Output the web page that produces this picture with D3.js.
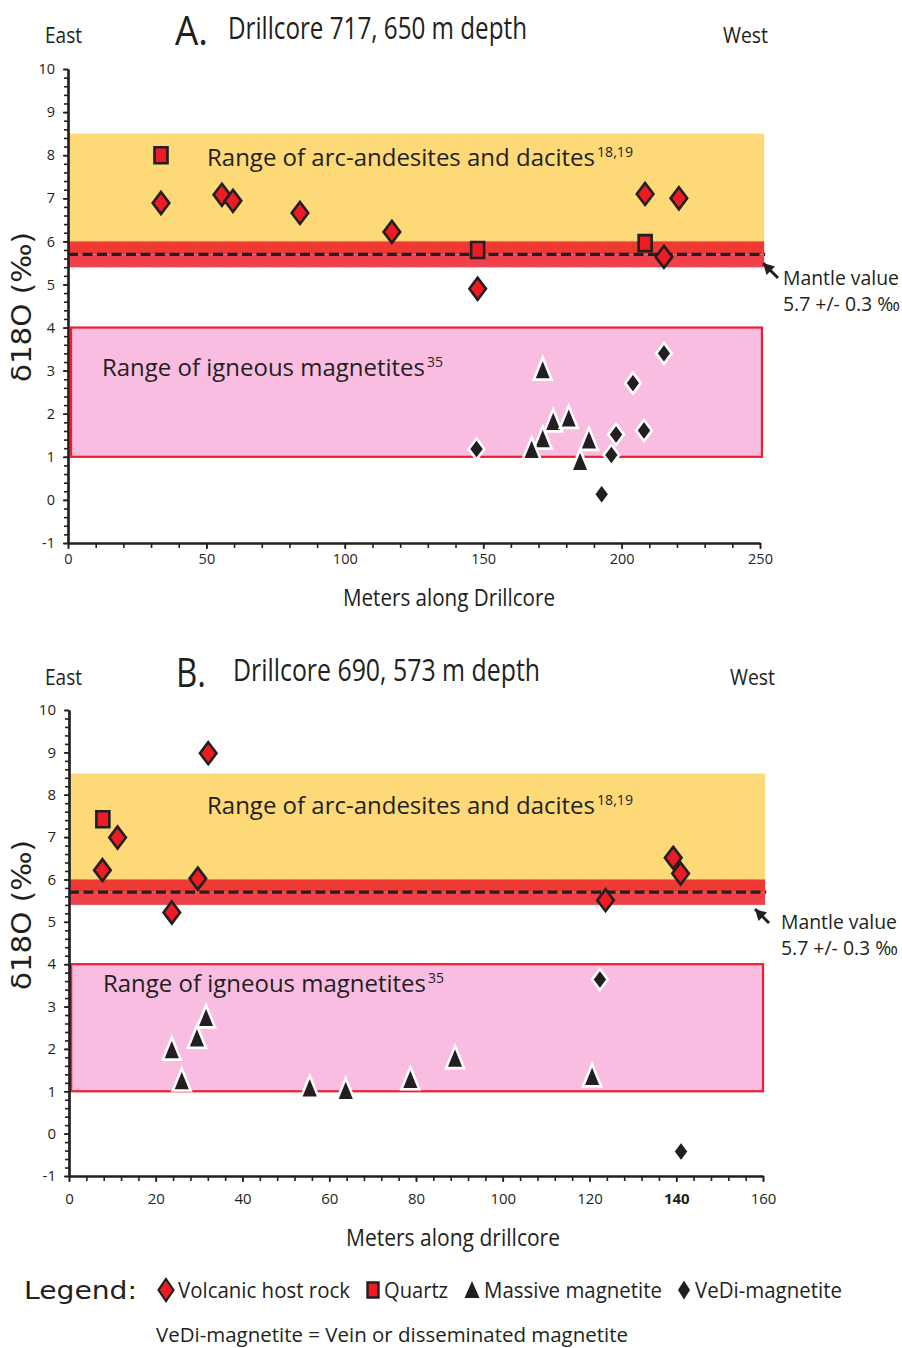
<!DOCTYPE html>
<html><head><meta charset="utf-8">
<script src="https://cdn.jsdelivr.net/npm/d3@7"></script>
<style>body{margin:0;background:#fff} svg{display:block}</style>
</head><body><svg id="c" width="902" height="1348"></svg>
<script>
// ---------- data ----------
const yTicks = [-1,0,1,2,3,4,5,6,7,8,9,10];
const xTicksA = [0,50,100,150,200,250];
const xTicksB = [0,20,40,60,80,100,120,140,160];
const hostRockA = [[33.6,6.89],[55.6,7.08],[59.6,6.94],[83.8,6.66],[117,6.22],[148,4.9],[208.5,7.1],[220.7,7.0],[215.3,5.64]];
const quartzA   = [[33.6,8.0],[148,5.8],[208.5,5.96]];
const massiveA  = [[171.5,3.0],[175.3,1.8],[180.9,1.88],[171.5,1.4],[167.5,1.15],[188.2,1.37],[185,0.87]];
const vediA     = [[147.6,1.18],[215.3,3.4],[204.1,2.71],[208.1,1.61],[198,1.52],[196.3,1.04],[192.8,0.13]];
const hostRockB = [[11.2,6.99],[7.7,6.22],[32.1,8.98],[29.7,6.02],[23.7,5.22],[139.3,6.51],[141.0,6.14],[123.7,5.51]];
const quartzB   = [[7.8,7.42]];
const massiveB  = [[23.7,1.96],[29.5,2.24],[31.6,2.72],[26.0,1.23],[55.5,1.06],[63.8,1.0],[78.7,1.26],[89.0,1.76],[120.6,1.33]];
const vediB     = [[122.4,3.64],[141.1,-0.42]];
const arcRange = [6.0, 8.5];
const mantle = 5.7, mantleErr = 0.3;
const igneousRange = [1, 4];

// ---------- shapes ----------
const diamondPath = (hw,hh) => `M0,${-hh}L${hw},0L0,${hh}L${-hw},0Z`;
const rectPath = (w,h) => `M${-w/2},${-h/2}h${w}v${h}h${-w}Z`;
const triPath = (hw,top,bot) => `M0,${-top}L${hw},${bot}L${-hw},${bot}Z`;

const svg = d3.select("#c");
const FONT = "'Open Sans', sans-serif";
const DARK = "#231F20";
const fmt = d => String(d).replace("\u2212", "-");

function txt(g, x, y, s, size, len, opts={}) {
  const t = g.append("text").attr("x", x).attr("y", y).text(s)
    .attr("font-family", opts.family || FONT).attr("font-size", size)
    .attr("fill", opts.fill || DARK);
  if (len) t.attr("textLength", len).attr("lengthAdjust", "spacingAndGlyphs");
  if (opts.anchor) t.attr("text-anchor", opts.anchor);
  if (opts.weight) t.attr("font-weight", opts.weight);
  if (opts.transform) t.attr("transform", opts.transform);
  return t;
}

function panel(cfg) {
  const g = svg.append("g");
  const x = d3.scaleLinear().domain(cfg.xDomain).range(cfg.xRange);
  const y = d3.scaleLinear().domain([-1,10]).range(cfg.yRange);

  // arc band
  g.append("rect").attr("x", x(0)).attr("width", x(cfg.bandEnd)-x(0))
    .attr("y", y(arcRange[1])).attr("height", y(arcRange[0])-y(arcRange[1]))
    .attr("fill", "#FDD978");
  // mantle band
  g.append("rect").attr("x", x(0)).attr("width", x(cfg.bandEnd)-x(0))
    .attr("y", y(mantle+mantleErr)).attr("height", y(mantle)-y(mantle+mantleErr))
    .attr("fill", "#EE3A32");
  g.append("rect").attr("x", x(0)).attr("width", x(cfg.bandEnd)-x(0))
    .attr("y", y(mantle)).attr("height", y(mantle-mantleErr)-y(mantle))
    .attr("fill", "#F0414A");
  [mantle+mantleErr, mantle-mantleErr].forEach(v =>
    g.append("line").attr("x1", x(0)).attr("x2", x(cfg.bandEnd)).attr("y1", y(v)).attr("y2", y(v))
      .attr("stroke", "#888").attr("stroke-width", 0.6).attr("stroke-dasharray", "1.5,1.5"));
  // mantle dashed line
  g.append("line").attr("x1", x(0)).attr("x2", x(cfg.bandEnd)+1).attr("y1", y(mantle)).attr("y2", y(mantle))
    .attr("stroke", DARK).attr("stroke-width", 3.2).attr("stroke-dasharray", "10,4.5");

  // igneous box
  g.append("rect").attr("x", x(cfg.pinkX[0])).attr("width", x(cfg.pinkX[1])-x(cfg.pinkX[0]))
    .attr("y", y(igneousRange[1])).attr("height", y(igneousRange[0])-y(igneousRange[1]))
    .attr("fill", "#F9BDE1").attr("stroke", "#EE1D2F").attr("stroke-width", 2.2);

  // range labels
  txt(g, 207, cfg.arcLabelY, "Range of arc-andesites and dacites", 24, 388);
  txt(g, 597, cfg.arcLabelY-9, "18,19", 14, 36);
  txt(g, cfg.ignLabelX, cfg.ignLabelY, "Range of igneous magnetites", 24, 323);
  txt(g, cfg.ignLabelX+325, cfg.ignLabelY-9, "35", 14, 16);

  // axes
  const xMinor = d3.axisBottom(x).tickValues(d3.range(cfg.xDomain[0], cfg.xDomain[1]+0.01, cfg.xMinor))
    .tickFormat("").tickSize(5).tickSizeOuter(0);
  const yMinor = d3.axisLeft(y).tickValues(d3.range(-1, 10.01, 0.2)).tickFormat("").tickSize(4).tickSizeOuter(0);
  const xAx = d3.axisBottom(x).tickValues(cfg.xTicks).tickFormat(fmt).tickSize(6).tickPadding(cfg.xTickPad).tickSizeOuter(0);
  const yAx = d3.axisLeft(y).tickValues(yTicks).tickFormat(fmt).tickSize(5).tickPadding(8).tickSizeOuter(0);
  const gy0 = cfg.yRange[0];
  [yMinor, yAx].forEach(a => g.append("g").attr("class","ax").attr("transform", `translate(${cfg.xRange[0]},0)`).call(a));
  [xMinor, xAx].forEach(a => g.append("g").attr("class","ax").attr("transform", `translate(0,${gy0})`).call(a));
  g.selectAll(".ax path").attr("stroke", DARK).attr("stroke-width", 2.2);
  g.selectAll(".ax line").attr("stroke", DARK).attr("stroke-width", 1.6);
  g.selectAll(".ax text").attr("font-family", FONT).attr("font-size", cfg.tickFont).attr("fill", DARK);
  if (cfg.boldTick != null) {
    g.selectAll(".ax .tick").filter(d => d === cfg.boldTick).select("text").attr("font-weight", 700);
  }

  // markers
  g.append("g").selectAll("path").data(cfg.quartz).join("path")
    .attr("transform", d => `translate(${x(d[0])},${y(d[1])})`)
    .attr("d", rectPath(13,16)).attr("fill", "#ED1C24").attr("stroke", DARK).attr("stroke-width", 2.6);
  g.append("g").selectAll("path").data(cfg.host).join("path")
    .attr("transform", d => `translate(${x(d[0])},${y(d[1])})`)
    .attr("d", diamondPath(8.3,11)).attr("fill", "#ED1C24").attr("stroke", DARK).attr("stroke-width", 2.6);
  g.append("g").selectAll("path").data(cfg.massive).join("path")
    .attr("transform", d => `translate(${x(d[0])},${y(d[1])})`)
    .attr("d", triPath(9,13,9)).attr("fill", DARK).attr("stroke", "#fff").attr("stroke-width", 2.6);
  g.append("g").selectAll("path").data(cfg.vedi).join("path")
    .attr("transform", d => `translate(${x(d[0])},${y(d[1])})`)
    .attr("d", diamondPath(7.8,10.5)).attr("fill", DARK).attr("stroke", "#fff").attr("stroke-width", 2.6);

  // titles
  const ty = cfg.titleY;
  txt(g, 45, ty+4, "East", 21, 37);
  txt(g, cfg.letterX, ty+6, cfg.letter, 40, cfg.letterW);
  txt(g, cfg.titleX, ty, cfg.title, 31, cfg.titleW);
  txt(g, cfg.westX, ty+4, "West", 21, 45);
  txt(g, cfg.xLabelX, cfg.xLabelY, cfg.xLabel, 24, cfg.xLabelW);
  txt(g, 0, 0, "δ18O (‰)", 27, 150, {family: "'DejaVu Sans', sans-serif", anchor: "middle",
      transform: `translate(31,${cfg.yLabelCY}) rotate(-90)`});

  // mantle annotation
  const mx = cfg.mantleX, my = cfg.mantleY;
  txt(g, mx, my, "Mantle value", 20, 116);
  txt(g, mx, my+26, "5.7 +/- 0.3 ‰", 20, 117);
  g.append("line").attr("x1", cfg.arrow[0]).attr("y1", cfg.arrow[1]).attr("x2", cfg.arrow[2]).attr("y2", cfg.arrow[3])
    .attr("stroke", DARK).attr("stroke-width", 3);
  const ang = Math.atan2(cfg.arrow[3]-cfg.arrow[1], cfg.arrow[2]-cfg.arrow[0]) * 180/Math.PI;
  g.append("path").attr("d", "M0,0L-11,-6L-11,6Z").attr("fill", DARK)
    .attr("transform", `translate(${cfg.arrow[2]},${cfg.arrow[3]}) rotate(${ang})`);
}

panel({
  xDomain: [0,250], xRange: [68,760], yRange: [543,69], xTicks: xTicksA, xMinor: 10, xTickPad: 5, tickFont: 14.5,
  bandEnd: 251.5, pinkX: [1.1, 250.7],
  host: hostRockA, quartz: quartzA, massive: massiveA, vedi: vediA,
  arcLabelY: 166, ignLabelX: 102, ignLabelY: 376,
  titleY: 39, letter: "A.", letterX: 175, letterW: 33, title: "Drillcore 717, 650 m depth", titleX: 228, titleW: 299, westX: 723,
  xLabel: "Meters along Drillcore", xLabelX: 343, xLabelY: 606, xLabelW: 212, yLabelCY: 307,
  mantleX: 783, mantleY: 285, arrow: [778, 278, 763, 263]
});
panel({
  xDomain: [0,160], xRange: [69,763], yRange: [1176,710], xTicks: xTicksB, xMinor: 4, xTickPad: 11, tickFont: 15,
  bandEnd: 160.5, pinkX: [0.5, 160], boldTick: 140,
  host: hostRockB, quartz: quartzB, massive: massiveB, vedi: vediB,
  arcLabelY: 814, ignLabelX: 103, ignLabelY: 992,
  titleY: 681, letter: "B.", letterX: 176, letterW: 30, title: "Drillcore 690, 573 m depth", titleX: 233, titleW: 307, westX: 730,
  xLabel: "Meters along drillcore", xLabelX: 346, xLabelY: 1246, xLabelW: 214, yLabelCY: 915,
  mantleX: 781, mantleY: 929, arrow: [769, 923, 755, 909]
});

// ---------- legend ----------
const lg = svg.append("g");
txt(lg, 24, 1299, "Legend:", 24, 113, {family: "'DejaVu Sans', sans-serif"});
lg.append("path").attr("transform", "translate(166,1290)").attr("d", diamondPath(7.5,11))
  .attr("fill", "#ED1C24").attr("stroke", DARK).attr("stroke-width", 2.2);
txt(lg, 178, 1298, "Volcanic host rock", 21, 172);
lg.append("path").attr("transform", "translate(373,1290)").attr("d", rectPath(11,15))
  .attr("fill", "#ED1C24").attr("stroke", DARK).attr("stroke-width", 2.4);
txt(lg, 384, 1298, "Quartz", 21, 64);
lg.append("path").attr("transform", "translate(472,1290)").attr("d", triPath(7.5,9,8)).attr("fill", DARK);
txt(lg, 484, 1298, "Massive magnetite", 21, 178);
lg.append("path").attr("transform", "translate(684,1290)").attr("d", diamondPath(6,9.5)).attr("fill", DARK);
txt(lg, 695, 1298, "VeDi-magnetite", 21, 147);
txt(lg, 156, 1342, "VeDi-magnetite = Vein or disseminated magnetite", 20, 472);
</script></body></html>
